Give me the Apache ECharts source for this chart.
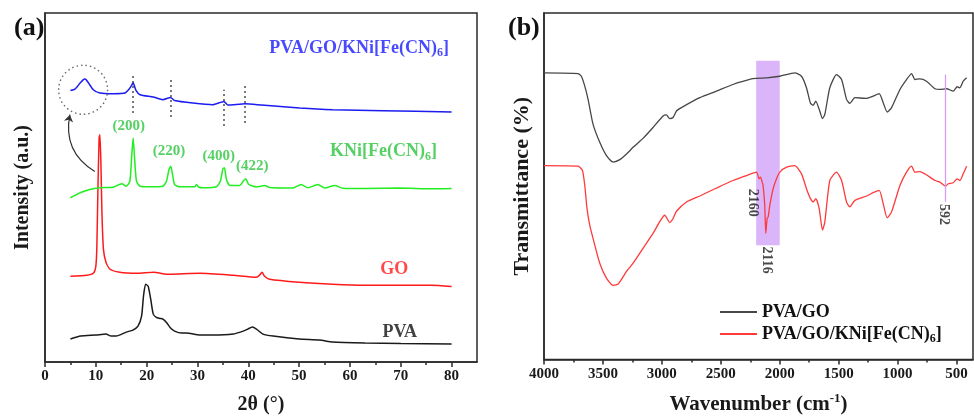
<!DOCTYPE html>
<html><head><meta charset="utf-8">
<script src="https://cdn.jsdelivr.net/npm/echarts@6/dist/echarts.min.js"></script>
<style>html,body{margin:0;padding:0;background:#fff}#c{width:974px;height:420px}</style>
</head><body><div id="c"></div>
<script>
// ---------- Panel (a) XRD ----------
const xrdTicks = [0,10,20,30,40,50,60,70,80];
const xrdMinorTicks = [5,15,25,35,45,55,65,75];
const pvaX = [5,7,10,12,13,14,16,17.3,18.3,19,19.4,19.8,20.3,20.8,21.3,21.9,22.6,23.2,23.9,24.6,25.5,26.9,27.8,30.5,33,37,39,39.9,40.8,41.6,42.9,44.9,50,54,56.6,63,70,80];
const pvaY = [23,26,27,28,26,26,30,32,36,46,67,78,76,63,48,44.7,43.7,43,39.7,34.7,31,29,29,27,27,28,31,33,35,33,28,26,23,22,20,19,18.5,18];
const goX = [5,8.2,9.5,10,10.2,10.4,10.65,10.8,11,11.2,11.5,12,12.8,14.7,18,21.4,24,30.5,37,41.6,42.2,42.7,43.2,44.2,50,56.6,63,76,80];
const goY = [86,87,89,96,115,170,225,228,200,150,113,100,93,90,89,90,88,89,87,85,87,90,86,83,80,78,77,77,75.7];
const kniX = [5,6.9,8.8,10.8,13.4,15.1,16,16.7,17.1,17.35,17.6,18,18.7,20.6,23.2,23.9,24.4,24.75,25.1,25.5,26.5,29.5,29.8,30.2,31.1,33.7,34.5,35,35.3,35.7,36.4,38.3,39,39.5,40.1,41.6,43.2,44.2,48.8,50.4,51.7,53.7,55,57,58.6,63.2,69.7,76.3,80];
const kniY = [164.7,169.7,173,174.7,175.3,178.7,176.3,181.3,209.7,224.7,206.3,181.3,176.3,175.7,176.3,181.3,193,196.3,188,178,175.7,175.7,178,175.5,174.7,175.7,181.3,193.7,194.7,183,177,177,181.3,183.7,178,175.7,177,175,174.5,178,174.7,178,174.5,177,174.3,174,174.5,173.7,174];
const compX = [5,5.9,6.9,7.5,7.9,8.5,9.5,10.8,13.4,15.7,16.7,17.35,17.9,18.7,21.3,23.2,24.7,25.5,29.1,33,35.2,36,39.4,42.6,50.1,56.6,66.5,80];
const compY = [272.3,273.7,279.7,283,283.7,280.3,273,269.7,269,269.7,274.7,279.7,272.3,268,265.7,263,265.3,262.3,259.7,258,261.3,257.7,259,257.7,254.7,253,252,250.7];
const xrdGuideX = [17.3,24.7,35.2,39.4];
const xrdGuideLo = [250,246,237,240];
const xrdGuideHi = [287,284,273,277];
const xrdCircle = [7.5,273];
const xrdArrowFrom = [9.8,191];
const xrdArrowTo = [4.9,248];
const xrdNoteText = ['PVA/GO/KNi[Fe(CN)_6]','KNi[Fe(CN)_6]','(200)','(220)','(400)','(422)','GO','PVA'];
const xrdNoteX = [61.8,66.6,16.5,24.4,34.2,40.8,68.7,69.8];
const xrdNoteY = [315,211,237,211,206,196,93,30];
const xrdNoteStyle = ['n','n','m','m','m','m','n','n'];
const xrdNoteColor = ['#1a1aff','#2bc43c','#2bc43c','#2bc43c','#2bc43c','#2bc43c','#ff1a1a','#111111'];

// ---------- Panel (b) FTIR ----------
const irTicks = [4000,3500,3000,2500,2000,1500,1000,500];
const irMinorTicks = [3750,3250,2750,2250,1750,1250,750];
const irGoX = [4000,3711,3683,3654,3626,3584,3527,3470,3414,3357,3300,3244,3160,3075,2990,2961,2933,2905,2876,2834,2678,2537,2396,2339,2226,2112,1999,1872,1815,1773,1739,1716,1694,1665,1637,1617,1575,1518,1475,1433,1405,1362,1263,1207,1156,1122,1088,1051,980,924,881,853,811,754,683,641,584,528,494,471,443,414];
const irGoY = [288.7,288,285.3,275.3,262,237,218.7,205.3,198.7,201.3,207,213.7,222.7,233.7,245.3,246.3,242.7,243.7,250.3,253.7,263.7,270.3,277,279.3,283,283.7,285.3,288.7,285.3,273.7,258,256,260.3,252,242.7,247,273.7,287,282,262,258,263.7,263,265.3,267.7,258.7,249.3,253.7,272,282,288,282,282.7,280.3,272.7,272,272.7,270.3,274.7,273.7,280.3,283.7];
const irCompX = [4000,3711,3674,3654,3635,3612,3584,3527,3470,3414,3371,3300,3244,3160,3075,2975,2933,2905,2876,2791,2678,2537,2396,2283,2197,2175,2163,2149,2141,2127,2118,2107,2098,2084,2056,2027,1999,1942,1872,1815,1773,1739,1716,1694,1665,1637,1617,1575,1518,1475,1433,1405,1362,1263,1207,1156,1122,1088,1051,980,924,881,853,811,754,683,641,592,570,528,494,471,443,414];
const irCompY = [195.3,194.7,190.3,175.3,152,135.3,122,97,82,74.7,76,88.7,97,112,127,145.3,138,142,149.3,158.7,164.7,172.7,180.3,185.3,188.7,182,183.7,178.7,175.3,155.3,127,142,143.7,155.3,172,182,188.7,193.7,195.3,187,172,162,158.7,162,152,130.3,138.7,180.3,188.7,180.3,158.7,153.7,160.3,164.7,168,170.3,157,142.7,148.7,175.3,188.7,194.7,188.7,189.3,186,180.3,178.7,174.7,177,178,182,180.3,187,194.7];
const irBandX = [2200,2000];
const irBandY = [115,301];
const irLine592 = [592,159,287];
const irNoteText = ['2160','2116','592'];
const irNoteX = [2228,2111,607];
const irNoteY = [158,100,146];
const seriesNames = ['PVA','GO','KNi[Fe(CN)_6]','PVA/GO/KNi[Fe(CN)_6]','PVA/GO','PVA/GO/KNi[Fe(CN)_6] '];

// ---------- helpers ----------
const FF = 'Liberation Serif';
const zip = (xs, ys) => xs.map((x, i) => [x, ys[i]]);
const rich = (t, st) => t.split(/_(\d)/).map((p, i) => i % 2 ? '{s|' + p + '}' : (p ? '{' + st + '|' + p + '}' : '')).join('');
const richStyles = {
  n: {fontFamily: FF, fontWeight: 'bold', fontSize: 18, lineHeight: 22},
  m: {fontFamily: FF, fontWeight: 'bold', fontSize: 15, lineHeight: 18},
  s: {fontFamily: FF, fontWeight: 'bold', fontSize: 12, lineHeight: 12, verticalAlign: 'bottom'}
};
const axisCol = '#2a2a2a';
function mainX(grid, min, max, inverse, ticks, name, nfs) {
  return {gridIndex: grid, type: 'value', min: min, max: max, inverse: inverse, position: 'bottom',
    axisLine: {show: true, lineStyle: {color: axisCol, width: 1.5}},
    axisTick: {show: true, customValues: ticks, length: 5, lineStyle: {color: axisCol, width: 1.5}},
    axisLabel: {customValues: ticks, formatter: v => String(v), fontFamily: FF, fontWeight: 'bold', fontSize: 15, color: '#1a1a1a', margin: 7},
    splitLine: {show: false},
    name: name, nameLocation: 'middle', nameGap: 33,
    nameTextStyle: {fontFamily: FF, fontWeight: 'bold', fontSize: nfs, color: '#1a1a1a',
      rich: {t: {fontFamily: FF, fontWeight: 'bold', fontSize: nfs, lineHeight: 24, color: '#1a1a1a'},
             sup: {fontFamily: FF, fontWeight: 'bold', fontSize: 13, lineHeight: 13, verticalAlign: 'top', color: '#1a1a1a'}}}};
}
function minorX(grid, min, max, inverse, ticks) {
  return {gridIndex: grid, type: 'value', min: min, max: max, inverse: inverse, position: 'bottom', offset: 0,
    axisLine: {show: false}, axisLabel: {show: false}, splitLine: {show: false},
    axisTick: {show: true, customValues: ticks, length: 3, lineStyle: {color: axisCol, width: 1.5}}};
}
function yAx(grid, max, name, nfs, gap) {
  return {gridIndex: grid, type: 'value', min: 0, max: max,
    axisLine: {show: true, lineStyle: {color: axisCol, width: 1.5}},
    axisTick: {show: false}, axisLabel: {show: false}, splitLine: {show: false},
    name: name, nameLocation: 'middle', nameGap: gap, nameRotate: 90,
    nameTextStyle: {fontFamily: FF, fontWeight: 'bold', fontSize: nfs, color: '#1a1a1a'}};
}
function lineS(name, xi, yi, data, color, width) {
  return {name: name, type: 'line', xAxisIndex: xi, yAxisIndex: yi, data: data, symbol: 'none', showSymbol: false,
    smooth: 0.2, lineStyle: {color: color, width: width}, itemStyle: {color: color}, z: 3};
}

const option = {
  animation: false,
  backgroundColor: '#fff',
  title: [
    {text: '(a)', left: 9, top: 10, textStyle: {fontFamily: FF, fontWeight: 'bold', fontSize: 26, color: '#111'}},
    {text: '(b)', left: 503, top: 10, textStyle: {fontFamily: FF, fontWeight: 'bold', fontSize: 26, color: '#111'}}
  ],
  grid: [
    {left: 45, right: 497, top: 13, bottom: 57, show: true, borderColor: axisCol, borderWidth: 1.5, backgroundColor: 'transparent'},
    {left: 544, right: 1, top: 13, bottom: 58, show: true, borderColor: axisCol, borderWidth: 1.5, backgroundColor: 'transparent'}
  ],
  xAxis: [
    mainX(0, 0, 85, false, xrdTicks, '2θ (°)', 20),
    minorX(0, 0, 85, false, xrdMinorTicks),
    mainX(1, 360, 4000, true, irTicks, '{t|Wavenumber (cm}{sup|-1}{t|)}', 21),
    minorX(1, 360, 4000, true, irMinorTicks)
  ],
  yAxis: [yAx(0, 350, 'Intensity (a.u.)', 20, 12), yAx(1, 349, 'Transmittance (%)', 22, 11)],
  legend: {
    left: 715, top: 298, orient: 'vertical', icon: 'rect', itemWidth: 37, itemHeight: 2, itemGap: 4,
    data: [seriesNames[4], seriesNames[5]],
    formatter: n => rich(n.trim(), 'n'),
    textStyle: {fontFamily: FF, fontWeight: 'bold', fontSize: 18, color: '#111', rich: richStyles}
  },
  series: [
    lineS(seriesNames[0], 0, 0, zip(pvaX, pvaY), '#1a1a1a', 1.5),
    lineS(seriesNames[1], 0, 0, zip(goX, goY), '#ff1a1a', 1.5),
    lineS(seriesNames[2], 0, 0, zip(kniX, kniY), '#22ee22', 1.5),
    lineS(seriesNames[3], 0, 0, zip(compX, compY), '#1c1cf0', 1.5),
    {type: 'lines', coordinateSystem: 'cartesian2d', xAxisIndex: 0, yAxisIndex: 0, silent: true, z: 4,
      lineStyle: {color: '#222', width: 1.6, type: [1.5, 3.5], opacity: 1},
      data: xrdGuideX.map((x, i) => ({coords: [[x, xrdGuideLo[i]], [x, xrdGuideHi[i]]]}))},
    {type: 'lines', coordinateSystem: 'cartesian2d', xAxisIndex: 0, yAxisIndex: 0, silent: true, z: 4,
      symbol: ['none', 'arrow'], symbolSize: 7,
      lineStyle: {color: '#333', width: 1.2, curveness: 0.35, opacity: 1},
      data: [{coords: [xrdArrowFrom, xrdArrowTo]}]},
    {type: 'scatter', xAxisIndex: 0, yAxisIndex: 0, silent: true, z: 4, symbol: 'circle', symbolSize: 49,
      itemStyle: {color: 'rgba(0,0,0,0)', borderColor: '#444', borderWidth: 1.4, borderType: [1.5, 3]},
      data: [xrdCircle]},
    {type: 'scatter', xAxisIndex: 0, yAxisIndex: 0, silent: true, z: 5, symbolSize: 0,
      label: {show: true, position: 'inside', formatter: p => rich(xrdNoteText[p.dataIndex], xrdNoteStyle[p.dataIndex]), rich: richStyles},
      data: xrdNoteX.map((x, i) => ({value: [x, xrdNoteY[i]], label: {color: xrdNoteColor[i]}}))},
    lineS(seriesNames[4], 2, 1, zip(irGoX, irGoY), '#474747', 1.3),
    lineS(seriesNames[5], 2, 1, zip(irCompX, irCompY), '#ff3a3a', 1.3),
    {name: 'band', type: 'line', xAxisIndex: 2, yAxisIndex: 1, silent: true, symbol: 'none', z: 6,
      lineStyle: {opacity: 0}, data: [[irBandX[0], irBandY[0]], [irBandX[1], irBandY[0]]],
      markArea: {silent: true, itemStyle: {color: 'rgba(190,120,245,0.55)'},
        data: [[{coord: [irBandX[0], irBandY[0]]}, {coord: [irBandX[1], irBandY[1]]}]]}},
    {type: 'lines', coordinateSystem: 'cartesian2d', xAxisIndex: 2, yAxisIndex: 1, silent: true, z: 6,
      lineStyle: {color: '#d29ef7', width: 1.3, opacity: 1},
      data: [{coords: [[irLine592[0], irLine592[1]], [irLine592[0], irLine592[2]]]}]},
    {type: 'scatter', xAxisIndex: 2, yAxisIndex: 1, silent: true, z: 7, symbolSize: 0,
      label: {show: true, position: 'inside', rotate: -90, formatter: p => irNoteText[p.dataIndex],
        fontFamily: FF, fontWeight: 'bold', fontSize: 14, color: '#1a1a1a'},
      data: zip(irNoteX, irNoteY)}
  ]
};
const chart = echarts.init(document.getElementById('c'), null, {renderer: 'canvas'});
chart.setOption(option);
</script></body></html>
